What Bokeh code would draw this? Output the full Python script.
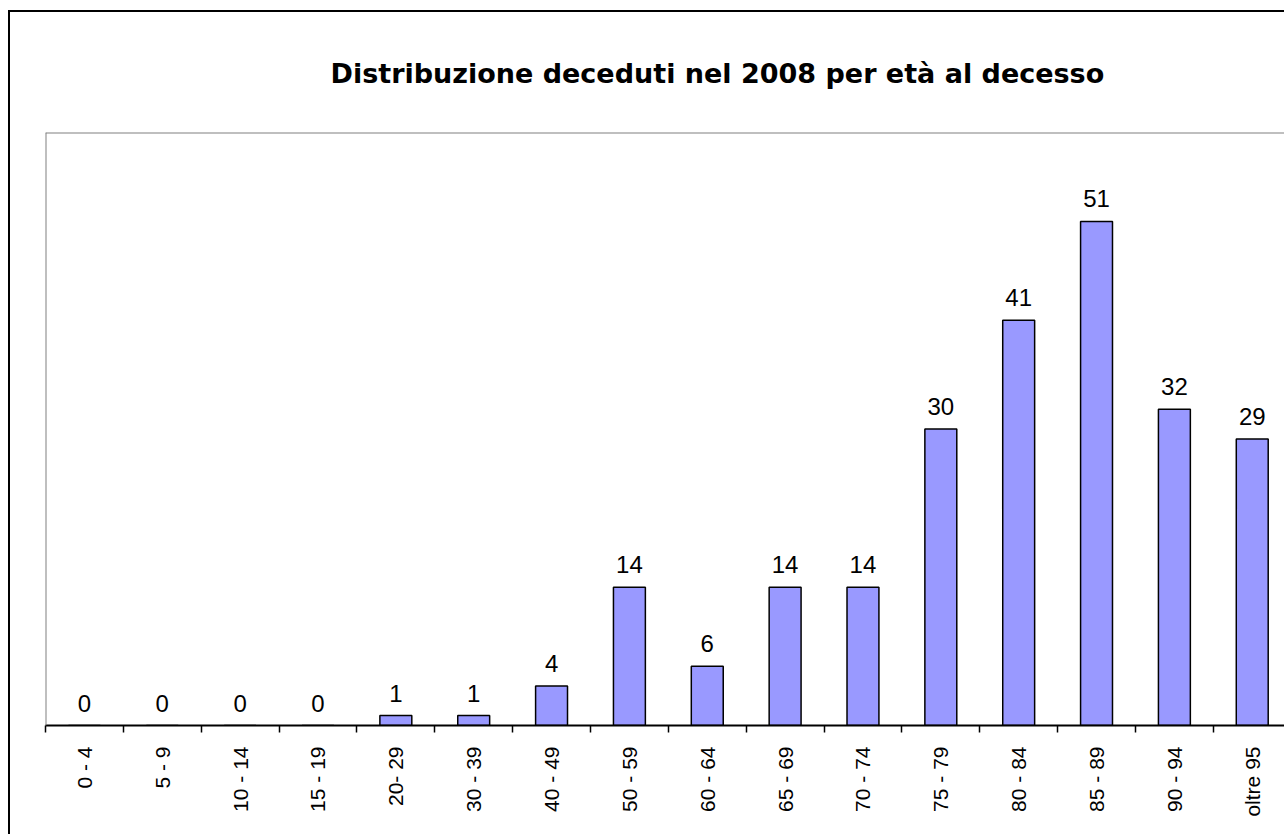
import math
from bokeh.plotting import figure
from bokeh.models import (ColumnDataSource, Range1d, FixedTicker, LabelSet, Title, Span)
from bokeh.core.properties import value
from bokeh.embed import file_html
from bokeh.resources import INLINE

# ---- data ----
categories = ["0 - 4", "5 - 9", "10 - 14", "15 - 19", "20- 29", "30 - 39",
              "40 - 49", "50 - 59", "60 - 64", "65 - 69", "70 - 74", "75 - 79",
              "80 - 84", "85 - 89", "90 - 94", "oltre 95"]
deceduti = [0, 0, 0, 0, 1, 1, 4, 14, 6, 14, 14, 30, 41, 51, 32, 29]
title_text = "Distribuzione deceduti nel 2008 per età al decesso"

idx = list(range(len(categories)))
src = ColumnDataSource(dict(x=idx, top=deceduti, lab=[str(v) for v in deceduti]))

W, H = 1276, 824
p = figure(width=W, height=H, output_backend="svg", toolbar_location=None,
           x_range=Range1d(-0.5, 15.44), y_range=Range1d(0, 60),
           min_border_left=35, min_border_right=0, min_border_top=119,
           min_border_bottom=111)
p.styles = {"margin-left": "8px", "margin-top": "10px",
            "border-left": "2px solid black", "border-top": "2px solid black"}
p.background_fill_color = "white"
p.border_fill_color = "white"
p.outline_line_color = None
p.grid.visible = False
p.yaxis.visible = False

p.vbar(x="x", top="top", width=0.41, source=src, fill_color="#9999FF",
       line_color="black", line_width=1.5)

# frame border (top and left, gray)
p.add_layout(Span(location=60, dimension="width", line_color="#808080", line_width=2))
p.add_layout(Span(location=-0.5, dimension="height", line_color="#808080", line_width=2))

labels = LabelSet(x="x", y="top", text="lab", source=src, text_align="center",
                  text_baseline="alphabetic", y_offset=14,
                  text_font=value("Liberation Sans"), text_font_size="24px",
                  text_color="black")
p.add_layout(labels)

ax = p.xaxis[0]
ax.ticker = FixedTicker(ticks=idx, minor_ticks=[i - 0.5 for i in range(len(categories) + 1)])
ax.major_label_overrides = {i: c for i, c in enumerate(categories)}
ax.major_label_orientation = math.pi / 2
ax.major_tick_out = 0
ax.major_tick_in = 0
ax.minor_tick_out = 7
ax.minor_tick_in = 0
ax.minor_tick_line_color = "black"
ax.minor_tick_line_width = 1.5
ax.axis_line_color = "black"
ax.axis_line_width = 2
ax.major_label_standoff = 14
ax.major_label_text_font = "Liberation Sans"
ax.major_label_text_font_size = "21px"
ax.major_label_text_color = "black"

p.add_layout(Title(text=title_text, align="left", offset=285, standoff=87,
                   text_font="DejaVu Sans", text_font_style="bold",
                   text_font_size="27px", text_color="black"), "above")

open("out.html", "w").write(file_html(p, INLINE))
